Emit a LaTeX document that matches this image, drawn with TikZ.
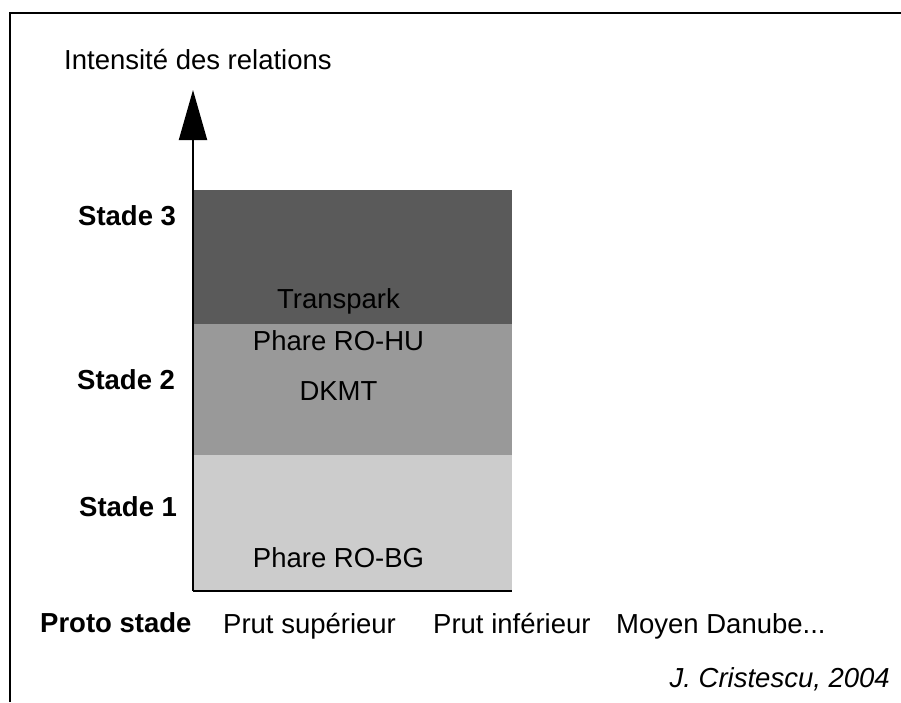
\documentclass[tikz,border=0pt]{standalone}
\usepackage{fontspec}
\setmainfont{Liberation Sans}
\usetikzlibrary{arrows.meta}
\definecolor{darkband}{HTML}{5A5A5A}
\definecolor{midband}{HTML}{999999}
\definecolor{lightband}{HTML}{CCCCCC}
\begin{document}
\begin{tikzpicture}[x=1pt,y=-1pt,
  txt/.style={inner sep=0pt,font=\fontsize{27.5pt}{33pt}\selectfont},
  lefttxt/.style={txt,anchor=base west},
  boldtxt/.style={lefttxt,font=\fontsize{27.5pt}{33pt}\selectfont\bfseries},
  bandtxt/.style={txt,anchor=base},
  axisline/.style={line width=2pt,black}]
\useasboundingbox (0,0) rectangle (901,702);
\fill[white] (0,0) rectangle (901,702);
% frame (only top and left visible)
\draw[line width=2.5pt] (10,702) -- (10,13) -- (901,13);
% bands
\fill[lightband] (193,455) rectangle (512,591);
\fill[midband] (193,324) rectangle (512,455);
\fill[darkband] (193,190) rectangle (512,324);
% axes
\coordinate (origin) at (193,591);
\coordinate (ytop) at (193,90);
\coordinate (xend) at (512,591);
\draw[axisline,-{Triangle[width=28pt,length=50pt]}] (origin) -- (ytop);
\draw[axisline] (origin) -- (xend);
% labels
\node[lefttxt] (ylabel) at (64,69) {Intensité des relations};
\node[boldtxt] (s3) at (78,225) {Stade 3};
\node[boldtxt] (s2) at (77,389) {Stade 2};
\node[boldtxt] (s1) at (79,516) {Stade 1};
\node[boldtxt] (proto) at (40,632) {Proto stade};
\node[lefttxt] (prutsup) at (223,633) {Prut supérieur};
\node[lefttxt] (prutinf) at (433,633) {Prut inférieur};
\node[lefttxt] (moyen) at (616,633) {Moyen Danube...};
\node[txt,anchor=base east,font=\fontsize{27.5pt}{33pt}\selectfont\itshape] (author) at (890,687) {J. Cristescu, 2004};
\node[bandtxt] (transpark) at (338.5,308) {Transpark};
\node[bandtxt] (rohu) at (338.5,350) {Phare RO-HU};
\node[bandtxt] (dkmt) at (338.5,400) {DKMT};
\node[bandtxt] (robg) at (338.5,567) {Phare RO-BG};
\end{tikzpicture}
\end{document}
